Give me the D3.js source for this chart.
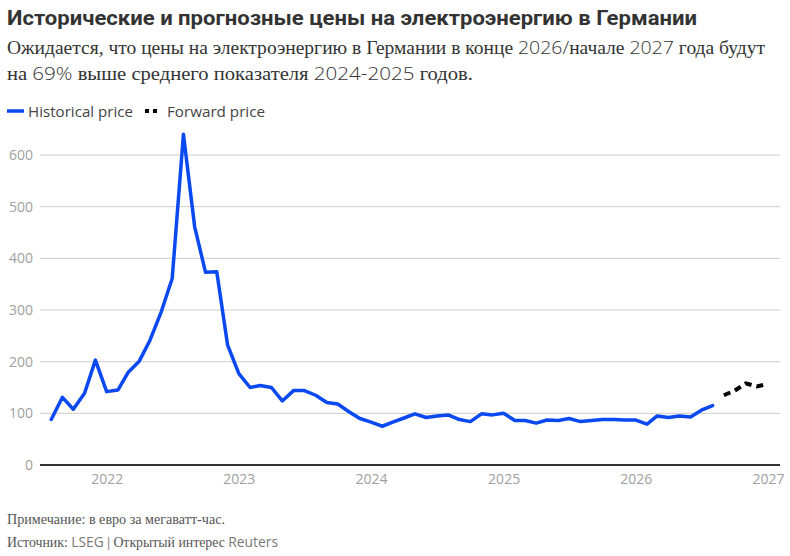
<!DOCTYPE html>
<html><head><meta charset="utf-8">
<script src="https://cdn.jsdelivr.net/npm/d3@7/dist/d3.min.js"></script>
<style>body{margin:0;background:#fff}</style>
</head><body>
<svg id="chart" width="790" height="556"></svg>
<script>
// ---- DATA ----
const histStart = "2021-08-01";
const histValues = [88,131,108,139,203,142,145,179,201,242,297,361,640,461,373,374,232,
  177,150,154,150,124,144,144,135,121,118,103,90,
  83,75,83,91,99,92,95,97,88,84,99,97,
  100,86,86,81,87,86,90,84,86,88,88,87,
  87,79,95,92,95,93,106,115];
const fwdStart = "2026-09-01";
const fwdValues = [135,144,158,152,157];
const yTicks = [0,100,200,300,400,500,600];
const xTickYears = [2022,2023,2024,2025,2026,2027];
const seriesNames = ["Historical price","Forward price"];
const titleText = "Исторические и прогнозные цены на электроэнергию в Германии";
const subtitleLines = ["Ожидается, что цены на электроэнергию в Германии в конце 2026/начале 2027 года будут",
  "на 69% выше среднего показателя 2024-2025 годов."];
const noteText = "Примечание: в евро за мегаватт-час.";
const sourceText = "Источник: LSEG | Открытый интерес Reuters";

// ---- BUILD ----
const parse = d3.timeParse("%Y-%m-%d");
function monthly(start, vals){
  const s = parse(start);
  return vals.map((v,i)=>({date:d3.timeMonth.offset(s,i), value:v}));
}
const hist = monthly(histStart, histValues);
const fwd = monthly(fwdStart, fwdValues);

const svg = d3.select("#chart");
const blue = "#0a48f0";
const serif = "'Liberation Serif', 'DejaVu Serif', serif";
const sans = "'Open Sans', 'Noto Sans', sans-serif";

const x = d3.scaleTime().domain([new Date(2021,6,1), new Date(2027,1,3)]).range([40,780]);
const y = d3.scaleLinear().domain([0,600]).range([465,155]);

function fit(t, w){
  t.attr("textLength", w).attr("lengthAdjust","spacingAndGlyphs");
}
function rich(t, str, sansFill, sansWeight){
  const parts = str.split(/([0-9A-Za-z][0-9A-Za-z%\/\-]*)/);
  parts.forEach((p,i)=>{
    if(!p) return;
    const ts = t.append("tspan").text(p);
    if(i%2===1){ ts.attr("font-family", sans).attr("font-weight", sansWeight).attr("fill", sansFill); }
  });
}

// Title
const title = svg.append("text").attr("x",7).attr("y",25)
  .attr("font-family","Roboto, 'Noto Sans', sans-serif").attr("font-weight",700)
  .attr("font-size",20.5).attr("fill","#333").text(titleText);
fit(title, 690);

// Subtitle
const subW = [758, 466];
subtitleLines.forEach((line,i)=>{
  const t = svg.append("text").attr("x",7).attr("y",54 + i*26)
    .attr("font-family", serif).attr("font-size",19).attr("fill","#333");
  rich(t, line, "#333", 300);
  fit(t, subW[i]);
});

// Legend
svg.append("line").attr("x1",7).attr("x2",24).attr("y1",111).attr("y2",111)
  .attr("stroke",blue).attr("stroke-width",3.5);
const lg1 = svg.append("text").attr("x",28).attr("y",116.5).attr("font-family",sans)
  .attr("font-size",15).attr("fill","#444").text(seriesNames[0]);
fit(lg1, 105);
svg.append("line").attr("x1",145).attr("x2",157).attr("y1",111).attr("y2",111)
  .attr("stroke","#000").attr("stroke-width",4).attr("stroke-dasharray","4,4");
const lg2 = svg.append("text").attr("x",167).attr("y",116.5).attr("font-family",sans)
  .attr("font-size",15).attr("fill","#444").text(seriesNames[1]);
fit(lg2, 98);

// Gridlines and y labels
const gy = svg.append("g");
gy.selectAll("line").data(yTicks.filter(d=>d>0)).join("line")
  .attr("x1",40).attr("x2",780).attr("y1",d=>y(d)).attr("y2",d=>y(d))
  .attr("stroke","#cccccc").attr("stroke-width",1);
gy.selectAll("text").data(yTicks).join("text")
  .attr("x",33).attr("y",d=>y(d)).attr("dy","0.36em").attr("text-anchor","end")
  .attr("font-family",sans).attr("font-size",14).attr("fill","#a0a0a0").text(d=>d);

// X axis
const xAxis = d3.axisBottom(x)
  .tickValues(xTickYears.map(yr=>new Date(yr,0,1)))
  .tickFormat(d3.timeFormat("%Y")).tickSize(0).tickPadding(9);
const gx = svg.append("g").attr("transform","translate(0,465)").call(xAxis);
gx.select(".domain").remove();
gx.selectAll("text").attr("font-family",sans).attr("font-size",14).attr("fill","#a0a0a0");
svg.append("line").attr("x1",40).attr("x2",780).attr("y1",465).attr("y2",465)
  .attr("stroke","#333").attr("stroke-width",2.2);

// Lines
const line = d3.line().x(d=>x(d.date)).y(d=>y(d.value));
svg.append("path").datum(hist).attr("d",line).attr("fill","none")
  .attr("stroke",blue).attr("stroke-width",3.5).attr("stroke-linejoin","round").attr("stroke-linecap","round");
svg.append("path").datum(fwd).attr("d",line).attr("fill","none")
  .attr("stroke","#000").attr("stroke-width",4).attr("stroke-dasharray","7,5");

// Footer
const n1 = svg.append("text").attr("x",7).attr("y",524).attr("font-family",serif)
  .attr("font-size",14).attr("fill","#555");
rich(n1, noteText, "#777", 400);
fit(n1, 218);
const n2 = svg.append("text").attr("x",7).attr("y",547).attr("font-family",serif)
  .attr("font-size",14).attr("fill","#555");
rich(n2, sourceText, "#777", 400);
fit(n2, 271);
</script>
</body></html>
